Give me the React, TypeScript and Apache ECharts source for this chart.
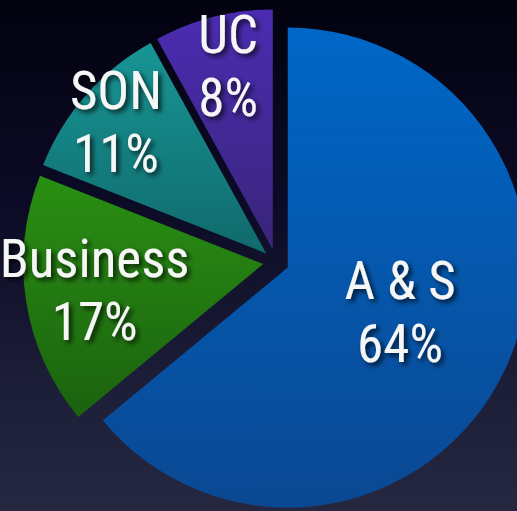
import React, { useEffect, useRef } from "react";
import * as echarts from "echarts";

const categories = ["A & S", "Business", "SON", "UC"];
const shares = [64, 17, 11, 8];

const topColors = ["#0067c7", "#2a8f13", "#189595", "#4b2cb2"];
const bottomColors = ["#0a4893", "#1b620f", "#106a6c", "#38257a"];
// label shift from the default "inside" position (layout only)
const labelShift = [
  [1, -7],
  [-47, 7],
  [-58, -50],
  [-14, -64],
];

export default function App() {
  const ref = useRef<HTMLDivElement>(null);
  useEffect(() => {
    if (!ref.current) return;
    const chart = echarts.init(ref.current, undefined, { renderer: "svg" });
    const data = categories.map((name, i) => {
      const style = {
        color: new echarts.graphic.LinearGradient(0, 0, 0, 1, [
          { offset: 0, color: topColors[i] },
          { offset: 1, color: bottomColors[i] },
        ]),
      };
      return {
        name,
        value: shares[i],
        selected: true,
        itemStyle: style,
        select: { itemStyle: style },
      };
    });
    chart.setOption({
      animation: false,
      series: [
        {
          type: "pie",
          center: [276, 262],
          radius: 240,
          startAngle: 90,
          clockwise: true,
          selectedMode: "multiple",
          selectedOffset: 13,
          avoidLabelOverlap: false,
          emphasis: { disabled: true },
          label: {
            show: true,
            position: "inside",
            formatter: "{b}\n{c}%",
            color: "#f6f6f6",
            fontFamily: "'Roboto Condensed', 'Liberation Sans Narrow', sans-serif",
            fontSize: 53,
            lineHeight: 63,
            align: "center",
            textShadowColor: "rgba(0,0,0,0.75)",
            textShadowBlur: 5,
            textShadowOffsetX: 3,
            textShadowOffsetY: 3,
          },
          labelLine: { show: false },
          labelLayout: (params: any) => {
            const s = labelShift[params.dataIndex] || [0, 0];
            return { dx: s[0], dy: s[1] };
          },
          data,
        },
      ],
    });
    return () => chart.dispose();
  }, []);
  return (
    <div
      ref={ref}
      style={{
        position: "fixed",
        left: 0,
        top: 0,
        width: 517,
        height: 511,
        background: "linear-gradient(#03020f 0%, #0c0b26 40%, #1c1d37 75%, #262842 100%)",
      }}
    />
  );
}
